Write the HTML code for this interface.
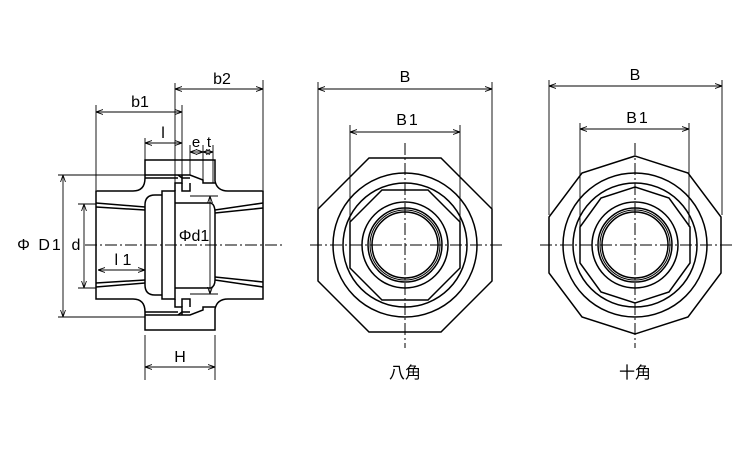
<!DOCTYPE html>
<html><head><meta charset="utf-8"><style>
html,body{margin:0;padding:0;background:#fff;}
svg{display:block;}
text{font-family:"Liberation Sans","Noto Sans CJK JP",sans-serif;fill:#000;}
</style></head><body>
<svg width="750" height="450" viewBox="0 0 750 450" xmlns="http://www.w3.org/2000/svg">
<defs>
<marker id="a" viewBox="0 0 10 10" refX="10" refY="5" markerWidth="7" markerHeight="7" orient="auto-start-reverse" markerUnits="userSpaceOnUse"><path d="M0,1.5 L10,5 L0,8.5" fill="none" stroke="#000" stroke-width="1.2"/></marker>
</defs>
<g fill="none" stroke="#000" stroke-width="1.5">
<path d="M96,191 L133,191 Q145,191 145,178 L145,160 L215,160 L215,181 Q217,191 228,191 L263,191 L263,299 L228,299 Q217,299 215,309 L215,330 L145,330 L145,312 Q145,299 133,299 L96,299 Z"/>
<path d="M145,175 L190,175 L203,180 L203,183 L215,183"/>
<path d="M145,178 L178,178"/>
<path d="M178,175 L182,178 L190,178"/>
<path d="M145,315 L190,315 L203,310 L203,307 L215,307"/>
<path d="M145,312 L178,312"/>
<path d="M178,315 L182,312 L190,312"/>
<path d="M162,195 L155,195 Q145,195 145,205 L145,285 Q145,295 155,295 L162,295"/>
<path d="M162,191 L175,191 L175,299 L162,299 Z"/>
<path d="M175,191 L175,183 L182,183 L182,175"/>
<path d="M175,299 L175,307 L182,307 L182,315"/>
<path d="M182,183 L182,191 L190,191 L190,183"/>
<path d="M182,307 L182,299 L190,299 L190,307"/>
<path d="M175,203 L211,203 Q215,205 215,212 L215,280 Q215,286 211,288 L175,288"/>
<path d="M215,210 L263,203 M215,213 L263,208"/>
<path d="M215,280 L263,287 M215,277 L263,282"/>
<path d="M96,203 L145,207 M96,207 L145,210"/>
<path d="M96,287 L145,283 M96,283 L145,280"/>
</g>
<g fill="none" stroke="#000" stroke-width="1" stroke-dasharray="12 3 2 3">
<path d="M85,245 L282,245"/>
<path d="M310,245 L502,245"/>
<path d="M405,143 L405,348"/>
<path d="M540,245 L732,245"/>
<path d="M635,143 L635,348"/>
</g>
<g fill="none" stroke="#000" stroke-width="0.9">
<path d="M175,83 L175,195 M263,80 L263,190 M96,105 L96,190 M182,105 L182,175 M145,138 L145,160 M190,145 L190,175 M203,145 L203,180 M213,145 L213,183"/>
<path d="M58,175 L145,175 M58,317 L145,317 M78,204 L96,204 M78,288 L96,288"/>
<path d="M190,196 L218,196 M190,294 L218,294"/>
<path d="M145,335 L145,380 M215,335 L215,380"/>
<path d="M318,82 L318,210 M492,82 L492,210 M350,125 L350,222 M460,125 L460,222"/>
<path d="M549,80 L549,215 M722,80 L722,215 M580,123 L580,227 M689,123 L689,227"/>
</g>
<g fill="none" stroke="#000" stroke-width="0.9" marker-start="url(#a)" marker-end="url(#a)">
<line x1="175" y1="89" x2="263" y2="89"/>
<line x1="96" y1="112" x2="182" y2="112"/>
<line x1="145" y1="143" x2="182" y2="143"/>
<line x1="190" y1="152" x2="203" y2="152"/>
<line x1="203" y1="152" x2="213" y2="152"/>
<line x1="63" y1="175" x2="63" y2="317"/>
<line x1="84" y1="204" x2="84" y2="288"/>
<line x1="98" y1="270" x2="145" y2="270"/>
<line x1="210" y1="196" x2="210" y2="294"/>
<line x1="145" y1="367" x2="215" y2="367"/>
<line x1="318" y1="89" x2="492" y2="89"/>
<line x1="350" y1="132" x2="460" y2="132"/>
<line x1="549" y1="86" x2="722" y2="86"/>
<line x1="580" y1="129" x2="689" y2="129"/>
</g>
<g fill="none" stroke="#000" stroke-width="1.5">
<polygon points="369,158 441,158 492,209 492,281 441,332 369,332 318,281 318,209"/>
<circle cx="405" cy="245" r="72"/>
<circle cx="405" cy="245" r="62"/>
<polygon points="382,190 428,190 460,222 460,268 428,300 382,300 350,268 350,222"/>
<circle cx="405" cy="245" r="43"/>
<circle cx="405" cy="245" r="37"/>
<circle cx="405" cy="245" r="35" stroke-width="1"/>
<circle cx="405" cy="245" r="33"/>
</g>
<g fill="none" stroke="#000" stroke-width="1.5">
<polygon points="635,156 582,173 549,217 549,273 582,317 635,334 688,317 721,273 721,217 688,173"/>
<circle cx="635" cy="245" r="72"/>
<circle cx="635" cy="245" r="62"/>
<polygon points="635,187 669,198 690,227 690,263 669,292 635,303 601,292 580,263 580,227 601,198"/>
<circle cx="635" cy="245" r="43"/>
<circle cx="635" cy="245" r="37"/>
<circle cx="635" cy="245" r="35" stroke-width="1"/>
<circle cx="635" cy="245" r="33"/>
</g>
<g font-size="16">
<text x="222" y="84" text-anchor="middle">b2</text>
<text x="140" y="107" text-anchor="middle">b1</text>
<text x="163" y="138" text-anchor="middle">l</text>
<text x="196" y="147" text-anchor="middle" font-size="15">e</text>
<text x="209" y="147" text-anchor="middle" font-size="15">t</text>
<text x="40" y="250" text-anchor="middle" letter-spacing="2">Φ D1</text>
<text x="76" y="250" text-anchor="middle">d</text>
<text x="123" y="265" text-anchor="middle">l 1</text>
<text x="194" y="241" text-anchor="middle">Φd1</text>
<text x="180" y="362" text-anchor="middle">H</text>
<text x="405" y="82" text-anchor="middle">B</text>
<text x="408" y="125" text-anchor="middle" letter-spacing="2">B1</text>
<text x="635" y="80" text-anchor="middle">B</text>
<text x="638" y="123" text-anchor="middle" letter-spacing="2">B1</text>
<text x="405" y="378" text-anchor="middle">八角</text>
<text x="635" y="378" text-anchor="middle">十角</text>
</g>
</svg>
</body></html>
